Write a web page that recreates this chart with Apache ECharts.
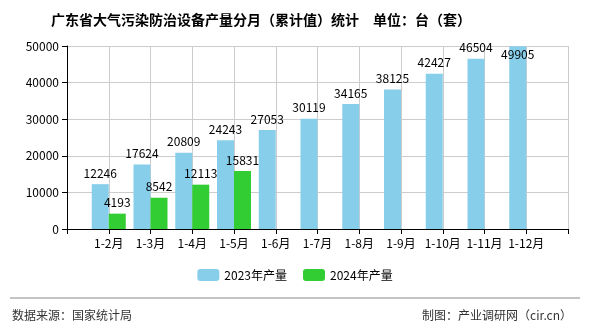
<!DOCTYPE html>
<html><head><meta charset="utf-8">
<script src="https://cdn.jsdelivr.net/npm/echarts@6/dist/echarts.min.js"></script>
<style>html,body{margin:0;padding:0;background:#fff}#c{width:590px;height:330px}</style>
</head><body><div id="c"></div>
<script>
const categories = ['', '1-2月', '1-3月', '1-4月', '1-5月', '1-6月', '1-7月', '1-8月', '1-9月', '1-10月', '1-11月', '1-12月', ''];
const series2023 = [null, 12246, 17624, 20809, 24243, 27053, 30119, 34165, 38125, 42427, 46504, 49905, null];
const series2024 = [null, 4193, 8542, 12113, 15831, null, null, null, null, null, null, null, null];
const yTicks = [0, 10000, 20000, 30000, 40000, 50000];
const names = ['2023年产量', '2024年产量'];

const font = '"Noto Sans CJK SC", "Noto Sans", sans-serif';
function mk(arr) {
  return arr.map((v, i) => {
    if (v == null) return null;
    if (v >= yTicks[yTicks.length - 1] * 0.99) return { value: v, label: { position: 'insideTop', offset: [0, -3] } };
    return v;
  });
}
const chart = echarts.init(document.getElementById('c'));
chart.setOption({
  animation: false,
  title: { text: '广东省大气污染防治设备产量分月（累计值）统计　单位：台（套）', left: 46, top: 8,
    textStyle: { fontSize: 14, fontWeight: 'bold', color: '#000', fontFamily: font } },
  grid: { left: 67, right: 22, top: 46, bottom: 101 },
  legend: { data: names, bottom: 44, left: 'center', itemWidth: 22, itemHeight: 12, itemGap: 16,
    textStyle: { fontSize: 12, color: '#000', fontFamily: font } },
  xAxis: { type: 'category', data: categories, boundaryGap: false,
    axisLine: { lineStyle: { color: '#000' } }, axisTick: { show: true, lineStyle: { color: '#000' } },
    axisLabel: { color: '#000', fontSize: 12, fontFamily: font, interval: 0 },
    splitLine: { show: true, lineStyle: { color: '#ccc' } } },
  yAxis: { type: 'value', min: 0, max: 50000, interval: 10000,
    axisLine: { show: true, lineStyle: { color: '#000' } }, axisTick: { show: true, lineStyle: { color: '#000' } },
    axisLabel: { color: '#000', fontSize: 12, fontFamily: font, formatter: v => String(v) },
    splitLine: { lineStyle: { color: '#ccc' } } },
  series: [
    { name: names[0], type: 'bar', data: mk(series2023), barWidth: 17, barGap: '0%',
      itemStyle: { color: '#87ceeb' },
      label: { show: true, position: 'top', color: '#000', fontSize: 12, fontFamily: font } },
    { name: names[1], type: 'bar', data: mk(series2024), barWidth: 17, barGap: '0%',
      itemStyle: { color: '#32cd32' },
      label: { show: true, position: 'top', color: '#000', fontSize: 12, fontFamily: font } }
  ],
  graphic: [
    { type: 'line', shape: { x1: 10, y1: 298, x2: 580, y2: 298 }, style: { stroke: '#888', lineWidth: 1 } },
    { type: 'text', left: 12, top: 309, style: { text: '数据来源：国家统计局', fontSize: 12, fill: '#333', fontFamily: font } },
    { type: 'text', right: 18, top: 309, style: { text: '制图：产业调研网（cir.cn）', fontSize: 12, fill: '#333', fontFamily: font } }
  ]
});
</script></body></html>
